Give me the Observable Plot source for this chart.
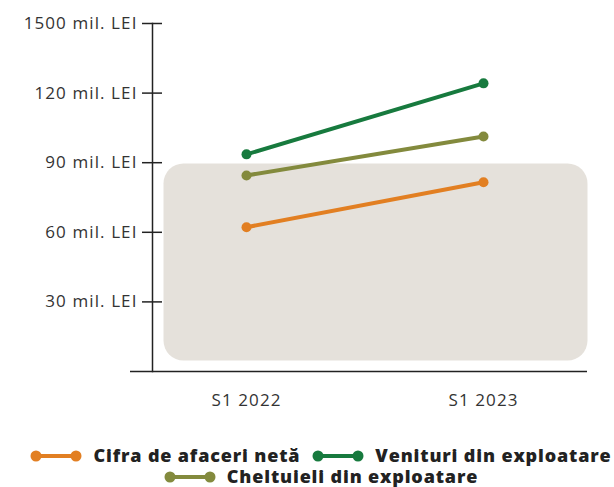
<!DOCTYPE html>
<html>
<head>
<meta charset="utf-8">
<script src="https://cdn.jsdelivr.net/npm/d3@7"></script>
<script src="https://cdn.jsdelivr.net/npm/@observablehq/plot@0.6"></script>
<style>
  html, body { margin: 0; padding: 0; background: #fff; }
  #chart { width: 614px; }
  .legend { box-sizing: border-box; display: flex; flex-wrap: wrap; justify-content: center; column-gap: 12px; row-gap: 0px; width: 614px; padding-left: 28px; font-family: "Open Sans", sans-serif; font-weight: 800; font-size: 18px; color: #222; letter-spacing: 0.85px; margin-top: 25px; }
  .legend span.item { display: inline-flex; align-items: center; gap: 11px; line-height: 21px; }
  svg text { letter-spacing: 1.1px; }
</style>
</head>
<body>
<div id="chart"></div>
<script>
const periods = ["S1 2022", "S1 2023"];
const seriesNames = ["Cifra de afaceri netă", "Venituri din exploatare", "Cheltuieli din exploatare"];
const seriesColors = ["#e27f22", "#177a3e", "#838a3d"];
const cifraAfaceri = [62.2, 81.6];
const venituri = [93.6, 124.2];
const cheltuieli = [84.5, 101.3];
const yTicks = [30, 60, 90, 120, 150];
const yTickLabels = ["30 mil. LEI", "60 mil. LEI", "90 mil. LEI", "120 mil. LEI", "1500 mil. LEI"];

const seriesValues = [cifraAfaceri, venituri, cheltuieli];
const data = [];
seriesNames.forEach((s, i) => periods.forEach((p, j) => data.push({series: s, period: p, value: seriesValues[i][j]})));

const plot = Plot.plot({
  width: 614,
  height: 420,
  marginLeft: 152,
  marginRight: 27,
  marginTop: 23,
  marginBottom: 49,
  style: {fontFamily: "'Open Sans', sans-serif", fontSize: "17px", color: "#333", background: "transparent"},
  x: {type: "point", domain: periods, padding: 0, insetLeft: 94, insetRight: 104, label: null},
  y: {domain: [0, 150], label: null},
  color: {domain: seriesNames, range: seriesColors},
  marks: [
    Plot.frame({fill: "#e5e1db", stroke: null, rx: 20, insetLeft: 11, insetTop: 140, insetBottom: 11}),
    Plot.axisX({tickSize: 0, tickPadding: 22, fontSize: 17, fill: "#333"}),
    Plot.axisY({ticks: yTicks, tickSize: 20, dx: 10, tickPadding: 5, strokeWidth: 1.5, stroke: "#222", fill: "#333",
      tickFormat: d => yTickLabels[yTicks.indexOf(d)], fontSize: 17}),
    Plot.frame({anchor: "left", stroke: "#222", strokeWidth: 1.5}),
    Plot.ruleY([0], {stroke: "#222", strokeWidth: 1.5, insetLeft: -22}),
    Plot.line(data, {x: "period", y: "value", z: "series", stroke: "series", strokeWidth: 4}),
    Plot.dot(data, {x: "period", y: "value", fill: "series", r: 5})
  ]
});
document.getElementById("chart").appendChild(plot);

const legend = document.createElement("div");
legend.className = "legend";
seriesNames.forEach((s, i) => {
  const item = document.createElement("span");
  item.className = "item";
  item.innerHTML = `<svg width="52" height="12"><line x1="6" y1="6" x2="46" y2="6" stroke="${seriesColors[i]}" stroke-width="4"/><circle cx="6" cy="6" r="5.5" fill="${seriesColors[i]}"/><circle cx="46" cy="6" r="5.5" fill="${seriesColors[i]}"/></svg>`;
  const t = document.createElement("span");
  t.textContent = s;
  item.appendChild(t);
  legend.appendChild(item);
});
document.getElementById("chart").appendChild(legend);
</script>
</body>
</html>
